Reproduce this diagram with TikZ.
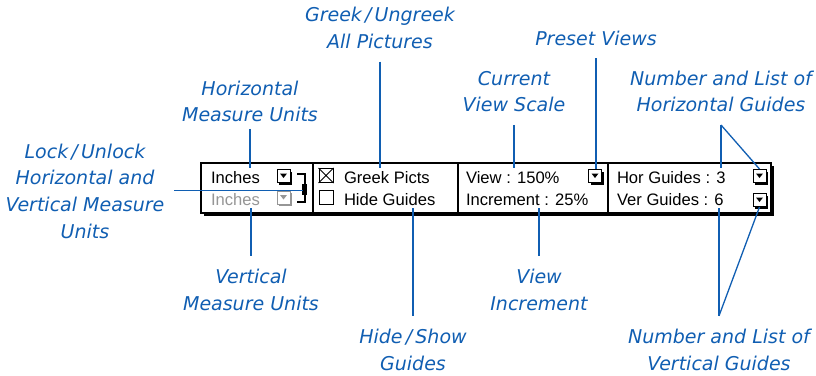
\documentclass[tikz,border=0pt]{standalone}
\usepackage{fontspec}
\newfontfamily\callfont{DejaVu Sans}
\newfontfamily\panelfont{Liberation Sans}
\usetikzlibrary{positioning,shadows}
\definecolor{qxblue}{RGB}{16,94,178}
\definecolor{dimgray}{RGB}{150,150,150}

\tikzset{
  callout/.style={font=\callfont\itshape\fontsize{19}{26.7}\selectfont, text=qxblue,
    align=center, anchor=base, inner sep=2pt, outer sep=11pt},
  lead/.style={draw=qxblue, line width=1.3pt},
  paneltext/.style={font=\panelfont\fontsize{16.6}{20}\selectfont, anchor=base west,
    inner sep=0pt, outer sep=3pt},
  popbtn/.style={draw=#1, fill=white, line width=1pt, minimum size=13pt, inner sep=0pt,
    drop shadow={shadow xshift=2pt, shadow yshift=-2pt, opacity=1, fill=#1},
    path picture={\fill[#1] ([xshift=-3.5pt,yshift=2.5pt]path picture bounding box.center)
      -- ++(7pt,0pt) -- ++(-3.5pt,-4.5pt) -- cycle;}},
  popbtn/.default=black,
  tickbox/.style={draw, line width=1pt, minimum size=14pt, inner sep=0pt},
}

\begin{document}
\begin{tikzpicture}[x=1pt,y=-1pt]
  \useasboundingbox (0,0) rectangle (816,375);
  % the palette bar
  \node[draw, line width=2pt, fill=white, minimum width=570pt, minimum height=50pt, inner sep=0pt,
    drop shadow={shadow xshift=3pt, shadow yshift=-3pt, opacity=1, fill=black}] (panel) at (485.75,187.5) {};
  \foreach \x in {313,458,608}
    \draw[line width=1.2pt] (\x,162.5) -- (\x,212.5);
  % measure units
  \node[paneltext] (inchH) at (208,183) {Inches};
  \node[paneltext, text=dimgray] (inchV) at (208,205) {Inches};
  \node[popbtn] (unitH) at (283.5,176) {};
  \node[popbtn=dimgray] (unitV) at (283.5,197.5) {};
  \draw[line width=1.5pt] (297,174) -| (305,202) -- (297,202);
  \fill (302,184) rectangle (307,195);
  \coordinate (lockpt) at (303,190.5);
  % pictures and guides
  \node[tickbox] (greekbox) at (326,175.5) {};
  \draw[line width=1pt] (greekbox.north west) -- (greekbox.south east)
    (greekbox.north east) -- (greekbox.south west);
  \node[tickbox] (guidebox) at (326,197.5) {};
  \node[paneltext] (greektxt) at (341,183) {Greek Picts};
  \node[paneltext] (hidetxt) at (341,205) {Hide Guides};
  % view scale
  \node[paneltext] (viewtxt) at (463,183) {View : 150\%};
  \node[paneltext] (incrtxt) at (463,205) {Increment : 25\%};
  \node[popbtn] (viewpop) at (595,176) {};
  % guides
  \node[paneltext] (hortxt) at (614,183) {Hor Guides : 3};
  \node[paneltext] (vertxt) at (614,205) {Ver Guides : 6};
  \node[popbtn] (hpop) at (759.5,176) {};
  \node[popbtn] (vpop) at (759.5,200) {};

  % callouts above the bar (base = last line)
  \node[callout, outer sep=5pt] (hunits) at (250,121.7) {Horizontal\\Measure Units};
  \node[callout] (greek) at (380,48.3) {Greek\,/\,Ungreek\\All Pictures};
  \node[callout] (vscale) at (514,111.7) {Current\\View Scale};
  \node[callout] (preset) at (596,45) {Preset Views};
  \node[callout] (hguides) at (721,111.7) {Number and List of\\Horizontal Guides};
  \node[callout, outer sep=8pt] (lock) at (85,238.3) {Lock\,/\,Unlock\\Horizontal and\\Vertical Measure\\Units};
  % callouts below the bar
  \node[callout] (vunits) at (251,310) {Vertical\\Measure Units};
  \node[callout] (hideshow) at (413,370) {Hide\,/\,Show\\Guides};
  \node[callout] (vincr) at (539,310) {View\\Increment};
  \node[callout] (vguides) at (719,370) {Number and List of\\Vertical Guides};

  % leaders
  \draw[lead] (hunits.south) -- (hunits.south |- inchH.north);
  \draw[lead] (greek.south) -- (greek.south |- greektxt.north);
  \draw[lead] (vscale.south) -- (vscale.south |- viewtxt.north);
  \draw[lead] (preset.south) -- (preset.south |- viewpop.north);
  \draw[lead] (hguides.south) -- (hguides.south |- hortxt.north);
  \draw[lead] (hguides.south) -- (hpop.north);
  \draw[lead] (lockpt -| lock.east) -- (lockpt);
  \draw[lead] (vunits.north) -- (vunits.north |- inchV.south);
  \draw[lead] (hideshow.north) -- (hideshow.north |- hidetxt.south);
  \draw[lead] (vincr.north) -- (vincr.north |- incrtxt.south);
  \draw[lead] (vguides.north) -- (vguides.north |- vertxt.south);
  \draw[lead] (vguides.north) -- (vpop.south);
\end{tikzpicture}
\end{document}
